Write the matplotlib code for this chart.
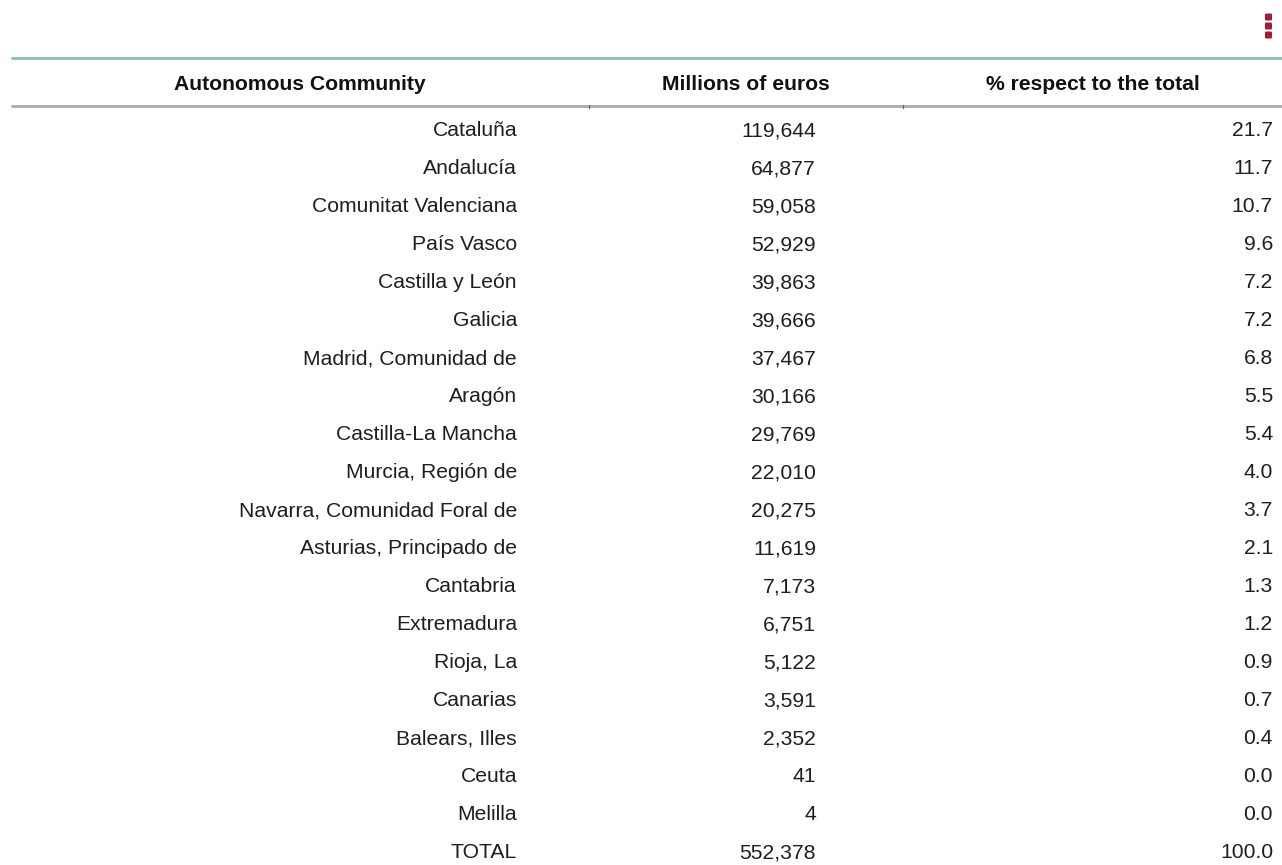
import matplotlib.pyplot as plt
from matplotlib.patches import FancyBboxPatch

# data
communities = [
    "Cataluña", "Andalucía", "Comunitat Valenciana", "País Vasco",
    "Castilla y León", "Galicia", "Madrid, Comunidad de", "Aragón",
    "Castilla-La Mancha", "Murcia, Región de", "Navarra, Comunidad Foral de",
    "Asturias, Principado de", "Cantabria", "Extremadura", "Rioja, La",
    "Canarias", "Balears, Illes", "Ceuta", "Melilla", "TOTAL",
]
millions_eur = [
    119644, 64877, 59058, 52929, 39863, 39666, 37467, 30166, 29769, 22010,
    20275, 11619, 7173, 6751, 5122, 3591, 2352, 41, 4, 552378,
]
pct_total = [
    21.7, 11.7, 10.7, 9.6, 7.2, 7.2, 6.8, 5.5, 5.4, 4.0,
    3.7, 2.1, 1.3, 1.2, 0.9, 0.7, 0.4, 0.0, 0.0, 100.0,
]
headers = ["Autonomous Community", "Millions of euros", "% respect to the total"]

W, H = 1282, 865
plt.rcParams['font.family'] = ['Liberation Sans', 'DejaVu Sans']

fig = plt.figure(figsize=(W / 100, H / 100), dpi=100)
ax = fig.add_axes([0, 0, 1, 1])
ax.set_xlim(0, W)
ax.set_ylim(H, 0)
ax.axis('off')

# column layout (pixel coords)
col_edges = [11, 589, 903, W]
col_right = [517, 816, 1273]
header_y = 83
row_y0, row_h = 129, 38
fs = 15.2
base_off = 7.5  # baseline offset from row centre

# rules
ax.plot([col_edges[0], W], [58, 58], color='#86bfb6', lw=2.0, solid_capstyle='butt')
ax.plot([col_edges[0], W], [106, 106], color='#ababab', lw=2.0, solid_capstyle='butt')
for x in col_edges[1:3]:
    ax.plot([x, x], [104.5, 107.5], color='#666666', lw=0.9)

for i, h in enumerate(headers):
    ax.text((col_edges[i] + col_edges[i + 1]) / 2, header_y + base_off, h, ha='center',
            va='baseline', fontsize=fs, fontweight='bold', color='#111111')

for i, (name, val, pct) in enumerate(zip(communities, millions_eur, pct_total)):
    y = row_y0 + i * row_h + base_off
    ax.text(col_right[0], y, name, ha='right', va='baseline', fontsize=fs, color='#1e1e1e')
    ax.text(col_right[1], y, f"{val:,}", ha='right', va='baseline', fontsize=fs, color='#1e1e1e')
    ax.text(col_right[2], y, f"{pct:.1f}", ha='right', va='baseline', fontsize=fs, color='#1e1e1e')

# menu icon (three dots)
for cy in (17, 26, 35):
    ax.add_patch(FancyBboxPatch((1265, cy - 3.5), 7, 7, boxstyle='round,pad=0,rounding_size=1.2',
                                fc='#a31d35', ec='none'))

fig.savefig('out.png', dpi=100)
